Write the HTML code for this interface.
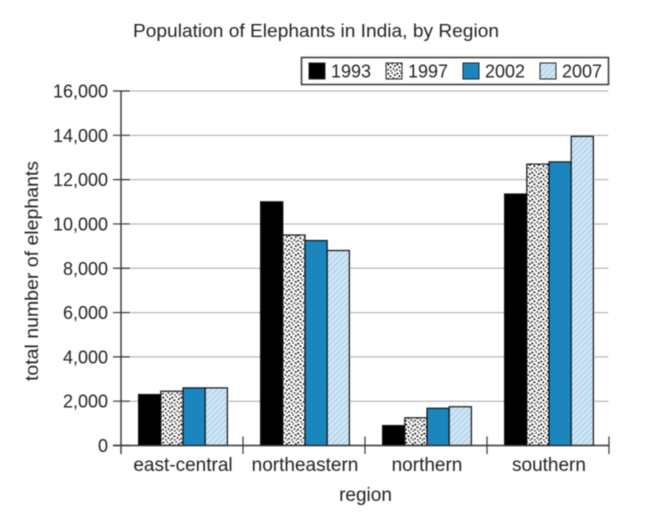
<!DOCTYPE html>
<html>
<head>
<meta charset="utf-8">
<title>Population of Elephants in India, by Region</title>
<style>
html,body{margin:0;padding:0;background:#fff;width:662px;height:530px;overflow:hidden}
svg{display:block;filter:blur(0.5px)}
text{font-family:"Liberation Sans",sans-serif;fill:#222;font-size:18px}
text.wide{font-size:19px}
</style>
</head>
<body>
<svg id="chart" width="662" height="530" viewBox="0 0 662 530" xmlns="http://www.w3.org/2000/svg">
<defs>
<pattern id="speckle" width="9" height="9" patternUnits="userSpaceOnUse">
<rect width="9" height="9" fill="#fff"/>
<g fill="#111">
<circle cx="1.3" cy="1.6" r="1"/><circle cx="5.2" cy="0.9" r="0.8"/><circle cx="7.8" cy="3" r="1"/>
<circle cx="3.4" cy="4.2" r="1"/><circle cx="6.4" cy="6" r="0.9"/><circle cx="1" cy="6.6" r="0.9"/>
<circle cx="3.9" cy="7.9" r="0.8"/><circle cx="8.2" cy="8" r="0.7"/>
</g>
</pattern>
<pattern id="hatch" width="4" height="4" patternUnits="userSpaceOnUse" patternTransform="rotate(-45)">
<rect width="4" height="4" fill="#d3e7f5"/>
<rect width="4" height="1.3" fill="#a9cfe9"/>
</pattern>
</defs>
<text x="133" y="37" textLength="366" lengthAdjust="spacingAndGlyphs">Population of Elephants in India, by Region</text>
<g id="grid"></g>
<g id="bars"></g>
<g id="axes"></g>
<g id="legend"></g>
<text class="wide" x="365.5" y="501" text-anchor="middle">region</text>
<text transform="translate(38,271) rotate(-90)" text-anchor="middle" textLength="220" lengthAdjust="spacingAndGlyphs">total number of elephants</text>
</svg>
<script>
const categories = ["east-central", "northeastern", "northern", "southern"];
const years = ["1993", "1997", "2002", "2007"];
const values1993 = [2300, 11000, 900, 11350];
const values1997 = [2450, 9500, 1250, 12700];
const values2002 = [2600, 9250, 1680, 12800];
const values2007 = [2600, 8800, 1750, 13950];
const yTicks = [0, 2000, 4000, 6000, 8000, 10000, 12000, 14000, 16000];

const seriesValues = [values1993, values1997, values2002, values2007];
const seriesFills = ["#000", "url(#speckle)", "#1a86bd", "url(#hatch)"];
const NS = "http://www.w3.org/2000/svg";
const plot = {left: 121, right: 609, top: 91, bottom: 445.5};
const yMax = yTicks[yTicks.length - 1];
const barWidth = 22.2;

function yScale(v) {
  return plot.bottom - (v / yMax) * (plot.bottom - plot.top);
}
function bandWidth() {
  return (plot.right - plot.left) / categories.length;
}
function xBand(i) {
  return plot.left + i * bandWidth();
}
function xBar(i, s) {
  const groupWidth = barWidth * seriesValues.length;
  return xBand(i) + (bandWidth() - groupWidth) / 2 + 1 + s * barWidth;
}
function make(tag, attrs, parent, content) {
  const el = document.createElementNS(NS, tag);
  for (const k in attrs) el.setAttribute(k, attrs[k]);
  if (content !== undefined) el.textContent = content;
  parent.appendChild(el);
  return el;
}

const gridG = document.getElementById("grid");
const barsG = document.getElementById("bars");
const axesG = document.getElementById("axes");
const legendG = document.getElementById("legend");

yTicks.forEach(function (t) {
  if (t === 0) return;
  const line = make("line", {x1: plot.left, x2: plot.right, y1: yScale(t), y2: yScale(t), stroke: "#555", "stroke-width": 1, "stroke-dasharray": "1 1"}, gridG);
  
  
});

seriesValues.forEach(function (vals, s) {
  vals.forEach(function (v, i) {
    const y = yScale(v);
    const bar = make("rect", {x: xBar(i, s), y: y, width: barWidth, height: plot.bottom - y, fill: seriesFills[s], stroke: "#111", "stroke-width": 1.2}, barsG);
    
    
  });
});

const axisColor = "#333";
const yAxis = make("line", {x1: plot.left, x2: plot.left, y1: plot.top, y2: 454, stroke: axisColor, "stroke-width": 1.4}, axesG);


const xAxis = make("line", {x1: plot.left - 8, x2: plot.right, y1: plot.bottom, y2: plot.bottom, stroke: axisColor, "stroke-width": 1.4}, axesG);



yTicks.forEach(function (t) {
  const y = yScale(t);
  const tick = make("line", {x1: plot.left - 8, x2: plot.left + 9, y1: y, y2: y, stroke: axisColor, "stroke-width": 1.2}, axesG);
  
  
  const label = make("text", {x: 108, y: y + 6.5, "text-anchor": "end"}, axesG, t.toLocaleString("en-US"));
  
  
});

categories.forEach(function (c, i) {
  const x = xBand(i + 1);
  const tick = make("line", {x1: x, x2: x, y1: plot.bottom - 9, y2: 454, stroke: axisColor, "stroke-width": 1.2}, axesG);
  
  
  const label = make("text", {x: xBand(i) + bandWidth() / 2 + 1, y: 471, "text-anchor": "middle", "class": "wide"}, axesG, c);
  
  
});

const legendBox = make("rect", {x: 301.5, y: 57.5, width: 307, height: 27, fill: "#fff", stroke: "#333", "stroke-width": 1.5}, legendG);


years.forEach(function (yr, s) {
  const x = 309 + s * 77;
  const swatch = make("rect", {x: x, y: 63, width: 16, height: 16, fill: seriesFills[s], stroke: "#222", "stroke-width": 1}, legendG);
  
  
  const label = make("text", {x: x + 22, y: 77.5, textLength: 40, lengthAdjust: "spacingAndGlyphs"}, legendG, yr);
  
  
});
</script>
</body>
</html>
